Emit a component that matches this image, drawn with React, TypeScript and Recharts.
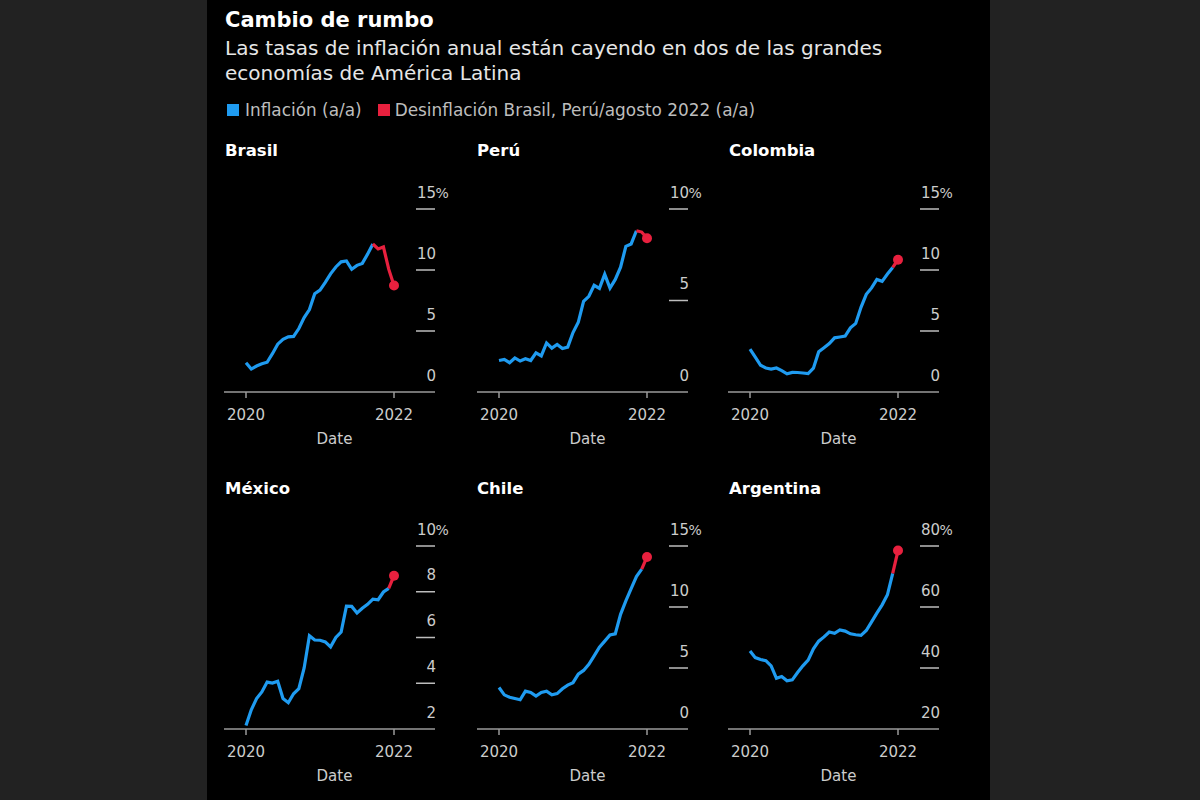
import React from "react";
import { LineChart, Line, XAxis, YAxis } from "recharts";

// Monthly observations, April 2020 – August 2022
const months = [
  "2020-04", "2020-05", "2020-06", "2020-07", "2020-08", "2020-09", "2020-10", "2020-11", "2020-12",
  "2021-01", "2021-02", "2021-03", "2021-04", "2021-05", "2021-06", "2021-07", "2021-08", "2021-09",
  "2021-10", "2021-11", "2021-12", "2022-01", "2022-02", "2022-03", "2022-04", "2022-05", "2022-06",
  "2022-07", "2022-08",
];

// Annual inflation, % y/y
const brasil = [2.40, 1.88, 2.13, 2.31, 2.44, 3.14, 3.92, 4.31, 4.52, 4.56, 5.20, 6.10, 6.76, 8.06, 8.35, 8.99, 9.68, 10.25, 10.67, 10.74, 10.06, 10.38, 10.54, 11.30, 12.13, 11.73, 11.89, 10.07, 8.73];
const peru = [1.72, 1.78, 1.60, 1.86, 1.69, 1.82, 1.72, 2.14, 1.97, 2.68, 2.40, 2.60, 2.38, 2.45, 3.25, 3.81, 4.95, 5.23, 5.83, 5.66, 6.43, 5.68, 6.15, 6.82, 7.96, 8.09, 8.81, 8.74, 8.40];
const colombia = [3.51, 2.85, 2.19, 1.97, 1.88, 1.97, 1.75, 1.49, 1.61, 1.60, 1.56, 1.51, 1.95, 3.30, 3.63, 3.97, 4.44, 4.51, 4.58, 5.26, 5.62, 6.94, 8.01, 8.53, 9.23, 9.07, 9.67, 10.21, 10.84];
const mexico = [2.15, 2.84, 3.33, 3.62, 4.05, 4.01, 4.09, 3.33, 3.15, 3.54, 3.76, 4.67, 6.08, 5.89, 5.88, 5.81, 5.59, 6.00, 6.24, 7.37, 7.36, 7.07, 7.28, 7.45, 7.68, 7.65, 7.99, 8.15, 8.70];
const chile = [3.4, 2.8, 2.6, 2.5, 2.4, 3.1, 3.0, 2.7, 3.0, 3.1, 2.8, 2.9, 3.3, 3.6, 3.8, 4.5, 4.8, 5.3, 6.0, 6.7, 7.2, 7.7, 7.8, 9.4, 10.5, 11.5, 12.5, 13.1, 14.1];
const argentina = [45.6, 43.4, 42.8, 42.4, 40.7, 36.6, 37.2, 35.8, 36.1, 38.5, 40.7, 42.6, 46.3, 48.8, 50.2, 51.8, 51.4, 52.5, 52.1, 51.2, 50.9, 50.7, 52.3, 55.1, 58.0, 60.7, 64.0, 71.0, 78.5];

// Index where the red (latest move) segment begins
const redStart = { brasil: 24, peru: 26, colombia: 27, mexico: 27, chile: 27, argentina: 27 };

// Y-axis ticks per country
const ticks15 = [0, 5, 10, 15];
const ticks10 = [0, 5, 10];
const ticksMx = [2, 4, 6, 8, 10];
const ticksAr = [20, 40, 60, 80];

const xTickLabels = ["2020", "2022"];

const BLUE = "#1f9bf0";
const RED = "#e8203e";
const FONT = "'DejaVu Sans', sans-serif";
const TICK_FILL = "#cccccc";

const PLOT_W = 211;
const PLOT_H = 183;
const XAXIS_H = 60;
const M = { top: 40, right: 34, left: 10, bottom: 0 };
const CHART_W = M.left + PLOT_W + M.right;
const CHART_H = M.top + PLOT_H + XAXIS_H;
const COL_LEFT = [224, 477, 728];
const ROW_TOP = [209, 546];
const TITLE_LEFT = [225, 477, 729];
const TITLE_TOP = [143, 481];

type Panel = {
  name: string;
  values: number[];
  redFrom: number;
  ticks: number[];
  col: number;
  row: number;
};

const panels: Panel[] = [
  { name: "Brasil", values: brasil, redFrom: redStart.brasil, ticks: ticks15, col: 0, row: 0 },
  { name: "Perú", values: peru, redFrom: redStart.peru, ticks: ticks10, col: 1, row: 0 },
  { name: "Colombia", values: colombia, redFrom: redStart.colombia, ticks: ticks15, col: 2, row: 0 },
  { name: "México", values: mexico, redFrom: redStart.mexico, ticks: ticksMx, col: 0, row: 1 },
  { name: "Chile", values: chile, redFrom: redStart.chile, ticks: ticks15, col: 1, row: 1 },
  { name: "Argentina", values: argentina, redFrom: redStart.argentina, ticks: ticksAr, col: 2, row: 1 },
];

function SmallMultiple({ p }: { p: Panel }) {
  const last = months.length - 1;
  const data = months.map((m, i) => ({
    m,
    up: i <= p.redFrom ? p.values[i] : null,
    down: i >= p.redFrom ? p.values[i] : null,
  }));
  const lo = p.ticks[0];
  const hi = p.ticks[p.ticks.length - 1];
  const right = M.left + PLOT_W;

  // Short rule under each value label, with the label sitting above it
  const renderYTick = (props: any) => {
    const { y, payload } = props;
    const v = payload.value;
    return (
      <g>
        {v !== lo && (
          <line x1={right - 19} x2={right} y1={y} y2={y} stroke="#bdbdbd" strokeWidth={1.5} />
        )}
        <text x={right + 1} y={y - 11.5} textAnchor="end" fill={TICK_FILL} fontSize={15} fontFamily={FONT}>
          {v}
        </text>
        {v === hi && (
          <text x={right + 0.5} y={y - 11.5} textAnchor="start" fill={TICK_FILL} fontSize={14} fontFamily={FONT}>
            %
          </text>
        )}
      </g>
    );
  };

  const renderDot = (props: any) =>
    props.index === last ? (
      <circle key="end" cx={props.cx} cy={props.cy} r={5} fill={RED} />
    ) : (
      <g key={`d${props.index}`} />
    );

  return (
    <div style={{ position: "absolute", left: COL_LEFT[p.col] - M.left, top: ROW_TOP[p.row] - M.top }}>
      <LineChart width={CHART_W} height={CHART_H} data={data} margin={M}>
        <XAxis
          dataKey="m"
          type="category"
          ticks={[months[0], months[last]]}
          interval={0}
          tickFormatter={(v: string) => (v === months[0] ? xTickLabels[0] : xTickLabels[1])}
          padding={{ left: 22, right: 41 }}
          axisLine={{ stroke: "#9a9a9a", strokeWidth: 1.5 }}
          tickLine={{ stroke: "#9a9a9a", strokeWidth: 1.5 }}
          tickSize={6}
          tickMargin={11}
          height={XAXIS_H}
          tick={{ fill: TICK_FILL, fontSize: 15, fontFamily: FONT }}
          label={{ value: "Date", position: "insideBottom", offset: 8, dx: 5, fill: TICK_FILL, fontSize: 15, fontFamily: FONT }}
        />
        <YAxis
          type="number"
          domain={[lo, hi]}
          ticks={p.ticks}
          interval={0}
          orientation="right"
          mirror
          width={40}
          axisLine={false}
          tickLine={false}
          tick={renderYTick}
        />
        <Line dataKey="up" stroke={BLUE} strokeWidth={3.2} dot={false} activeDot={false} isAnimationActive={false} />
        <Line dataKey="down" stroke={RED} strokeWidth={3.2} dot={renderDot} activeDot={false} isAnimationActive={false} />
      </LineChart>
    </div>
  );
}

const textBase: React.CSSProperties = {
  position: "absolute",
  whiteSpace: "nowrap",
  lineHeight: 1,
  fontFamily: FONT,
};

export default function App() {
  return (
    <div style={{ position: "absolute", left: 0, top: 0, width: 1200, height: 800, background: "#222222", overflow: "hidden", fontFamily: FONT }}>
      <div style={{ position: "absolute", left: 207, top: 0, width: 783, height: 800, background: "#000000" }} />

      <div style={{ ...textBase, left: 225, top: 10, fontSize: 21, fontWeight: 700, color: "#ffffff" }}>Cambio de rumbo</div>
      <div style={{ ...textBase, left: 225, top: 38, fontSize: 20, color: "#e6e6e6" }}>
        Las tasas de inflación anual están cayendo en dos de las grandes
      </div>
      <div style={{ ...textBase, left: 225, top: 63, fontSize: 20, color: "#e6e6e6" }}>economías de América Latina</div>

      <div style={{ ...textBase, left: 227, top: 102, fontSize: 16.9, color: "#bdbdbd", display: "flex", alignItems: "center" }}>
        <span style={{ display: "inline-block", width: 12, height: 12, background: BLUE, marginRight: 6 }} />
        <span>Inflación (a/a)</span>
        <span style={{ display: "inline-block", width: 12, height: 12, background: RED, marginLeft: 16, marginRight: 5 }} />
        <span>Desinflación Brasil, Perú/agosto 2022 (a/a)</span>
      </div>

      {panels.map((p) => (
        <div
          key={`t-${p.name}`}
          style={{ ...textBase, left: TITLE_LEFT[p.col], top: TITLE_TOP[p.row], fontSize: 16.5, fontWeight: 700, color: "#ffffff" }}
        >
          {p.name}
        </div>
      ))}

      {panels.map((p) => (
        <SmallMultiple key={p.name} p={p} />
      ))}
    </div>
  );
}
